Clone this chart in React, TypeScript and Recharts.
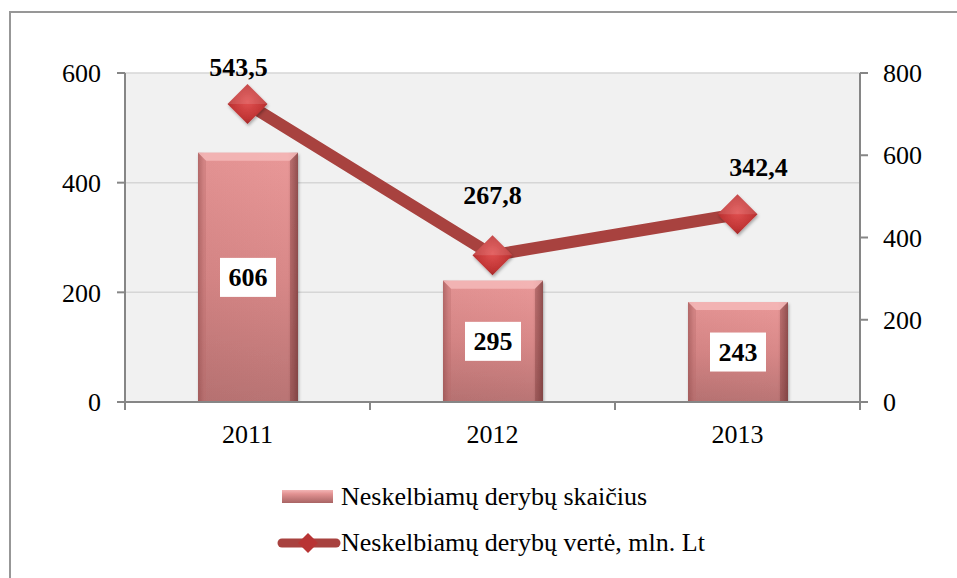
import React from 'react';
import { ComposedChart, Bar, Line, XAxis, YAxis, CartesianGrid, Legend, LabelList } from 'recharts';

const years = ['2011', '2012', '2013'];
const countValues = [606, 295, 243];
const valueMln = [543.5, 267.8, 342.4];
const leftTicks = [0, 200, 400, 600];
const rightTicks = [0, 200, 400, 600, 800];
const seriesNames = ['Neskelbiamų derybų skaičius', 'Neskelbiamų derybų vertė, mln. Lt'];

const data = years.map((y, i) => ({ year: y, count: countValues[i], value: valueMln[i] }));

const W = 957;
const H = 578;
const LEFT_W = 125;
const RIGHT_W = 97;
const PLOT_W = W - LEFT_W - RIGHT_W;
const FONT = '"Liberation Serif", "Times New Roman", serif';
const AXIS_COLOR = '#868686';
const LINE_COLOR = '#a8423f';
// per-point label nudges (style only)
const lineLabelDx = [-9, 0, 21];
const lineLabelDy = [-37, -60, -47];

const fmt = (v: number) => v.toFixed(1).replace('.', ',');

const BarShape = (p: any) => {
  const { x, y, width, height } = p;
  if (!height || height <= 0) return null;
  const b = 8;
  return (
    <g filter="url(#softShadow)">
      <rect x={x} y={y} width={width} height={height} fill="url(#barBody)" />
      <rect x={x} y={y} width={width} height={height} fill="url(#barSides)" />
      <polygon points={`${x},${y} ${x + width},${y} ${x + width - b},${y + b} ${x + b},${y + b}`} fill="#f4b8b8" opacity={0.85} />
      <polygon points={`${x},${y} ${x + b},${y + b} ${x + b},${y + height} ${x},${y + height}`} fill="#b86a6a" opacity={0.35} />
      <polygon points={`${x + width},${y} ${x + width - b},${y + b} ${x + width - b},${y + height} ${x + width},${y + height}`} fill="#7a3a3a" opacity={0.35} />
    </g>
  );
};

const BarLabel = (p: any) => {
  const { x, y, width, height, value } = p;
  const cx = x + width / 2;
  const cy = y + height / 2;
  const bw = 56;
  const bh = 39;
  return (
    <g>
      <rect x={cx - bw / 2} y={cy - bh / 2} width={bw} height={bh} fill="#ffffff" />
      <text x={cx} y={cy} dy="0.35em" textAnchor="middle" fontFamily={FONT} fontWeight="bold" fontSize={26} fill="#000">
        {value}
      </text>
    </g>
  );
};

const LineLabel = (p: any) => {
  const { x, y, value, index } = p;
  return (
    <text
      x={x + (lineLabelDx[index] || 0)}
      y={y + (lineLabelDy[index] || -40)}
      dy="0.35em"
      textAnchor="middle"
      fontFamily={FONT}
      fontWeight="bold"
      fontSize={26}
      fill="#000"
    >
      {fmt(value)}
    </text>
  );
};

const Diamond = (p: any) => {
  const { cx, cy } = p;
  if (cx == null || cy == null) return null;
  const r = 20;
  return (
    <g filter="url(#softShadow)">
      <polygon points={`${cx},${cy - r} ${cx + r},${cy} ${cx},${cy + r} ${cx - r},${cy}`} fill="url(#diamondFill)" />
      <polygon points={`${cx},${cy - r} ${cx + r},${cy} ${cx},${cy} ${cx - r},${cy}`} fill="#ffffff" opacity={0.12} />
    </g>
  );
};

const XTick = (p: any) => {
  const { x, y, payload, index } = p;
  const half = PLOT_W / years.length / 2;
  const last = index === years.length - 1;
  return (
    <g>
      <line x1={x - half} y1={y} x2={x - half} y2={y + 8} stroke={AXIS_COLOR} strokeWidth={2} />
      {last && <line x1={x + half} y1={y} x2={x + half} y2={y + 8} stroke={AXIS_COLOR} strokeWidth={2} />}
      <text x={x} y={y + 41} textAnchor="middle" fontFamily={FONT} fontSize={26} fill="#000">
        {payload.value}
      </text>
    </g>
  );
};

const LegendContent = () => (
  <div style={{ fontFamily: FONT, fontSize: 26, color: '#000', lineHeight: 1 }}>
    <div style={{ display: 'flex', alignItems: 'center', height: 46 }}>
      <svg width={65} height={20} style={{ display: 'block' }}>
        <defs>
          <linearGradient id="legBar" x1="0" y1="0" x2="0" y2="1">
            <stop offset="0" stopColor="#f3b5b5" />
            <stop offset="0.3" stopColor="#e29292" />
            <stop offset="1" stopColor="#a86464" />
          </linearGradient>
        </defs>
        <rect x={6} y={3} width={51} height={13} fill="url(#legBar)" />
      </svg>
      <span>{seriesNames[0]}</span>
    </div>
    <div style={{ display: 'flex', alignItems: 'center', height: 46 }}>
      <svg width={65} height={24} style={{ display: 'block' }}>
        <line x1={6} y1={12} x2={60} y2={12} stroke={LINE_COLOR} strokeWidth={9} strokeLinecap="round" />
        <polygon points="32,2 42,12 32,22 22,12" fill="#b83434" />
      </svg>
      <span>{seriesNames[1]}</span>
    </div>
  </div>
);

export default function App() {
  return (
    <div style={{ position: 'absolute', left: 0, top: 0, width: W, height: H, overflow: 'hidden', background: '#fff' }}>
      <div
        style={{
          position: 'absolute',
          left: 9,
          top: 11,
          width: 1000,
          height: 1000,
          border: '2px solid #979797',
          boxSizing: 'border-box',
        }}
      />
      <div style={{ position: 'absolute', left: 0, top: 0 }}>
        <ComposedChart width={W} height={H} data={data} margin={{ top: 73, right: 0, bottom: 126, left: 0 }} barCategoryGap="0%">
          <defs>
            <linearGradient id="barBody" x1="0" y1="0" x2="0" y2="1">
              <stop offset="0" stopColor="#e99898" />
              <stop offset="0.5" stopColor="#d88888" />
              <stop offset="1" stopColor="#b97474" />
            </linearGradient>
            <linearGradient id="barSides" x1="0" y1="0" x2="1" y2="0">
              <stop offset="0" stopColor="#6e2f2f" stopOpacity={0.45} />
              <stop offset="0.06" stopColor="#6e2f2f" stopOpacity={0.05} />
              <stop offset="0.9" stopColor="#6e2f2f" stopOpacity={0.0} />
              <stop offset="1" stopColor="#4e1f1f" stopOpacity={0.5} />
            </linearGradient>
            <radialGradient id="diamondFill" cx="0.5" cy="0.45" r="0.6">
              <stop offset="0" stopColor="#e05050" />
              <stop offset="0.7" stopColor="#c03434" />
              <stop offset="1" stopColor="#962424" />
            </radialGradient>
            <filter id="softShadow" x="-20%" y="-20%" width="140%" height="140%">
              <feDropShadow dx="1" dy="2" stdDeviation="1.5" floodColor="#000" floodOpacity="0.3" />
            </filter>
          </defs>
          <CartesianGrid yAxisId="left" vertical={false} stroke="#d6d6d6" strokeWidth={1.5} fill="#f1f1f1" />
          <XAxis
            dataKey="year"
            height={50}
            axisLine={{ stroke: AXIS_COLOR, strokeWidth: 2 }}
            tickLine={false}
            tickSize={0}
            tickMargin={0}
            tick={<XTick />}
            interval={0}
          />
          <YAxis
            yAxisId="left"
            width={LEFT_W}
            domain={[0, 600]}
            ticks={leftTicks}
            allowDataOverflow
            axisLine={{ stroke: AXIS_COLOR, strokeWidth: 2 }}
            tickLine={{ stroke: AXIS_COLOR, strokeWidth: 2 }}
            tickSize={8}
            tickMargin={16}
            tick={{ fill: '#000', fontFamily: FONT, fontSize: 26 }}
          />
          <YAxis
            yAxisId="right"
            orientation="right"
            width={RIGHT_W}
            domain={[0, 800]}
            ticks={rightTicks}
            allowDataOverflow
            axisLine={{ stroke: AXIS_COLOR, strokeWidth: 2 }}
            tickLine={{ stroke: AXIS_COLOR, strokeWidth: 2 }}
            tickSize={8}
            tickMargin={15}
            tick={{ fill: '#000', fontFamily: FONT, fontSize: 26 }}
          />
          <Legend
            layout="vertical"
            align="center"
            verticalAlign="middle"
            content={<LegendContent />}
            wrapperStyle={{ left: 276, top: 474, width: 'auto', height: 'auto' }}
          />
          <Bar yAxisId="right" dataKey="count" name={seriesNames[0]} barSize={100} shape={<BarShape />} isAnimationActive={false}>
            <LabelList dataKey="count" content={<BarLabel />} />
          </Bar>
          <Line
            yAxisId="left"
            dataKey="value"
            name={seriesNames[1]}
            stroke={LINE_COLOR}
            strokeWidth={12}
            dot={<Diamond />}
            activeDot={false}
            isAnimationActive={false}
          >
            <LabelList dataKey="value" content={<LineLabel />} />
          </Line>
        </ComposedChart>
      </div>
    </div>
  );
}
